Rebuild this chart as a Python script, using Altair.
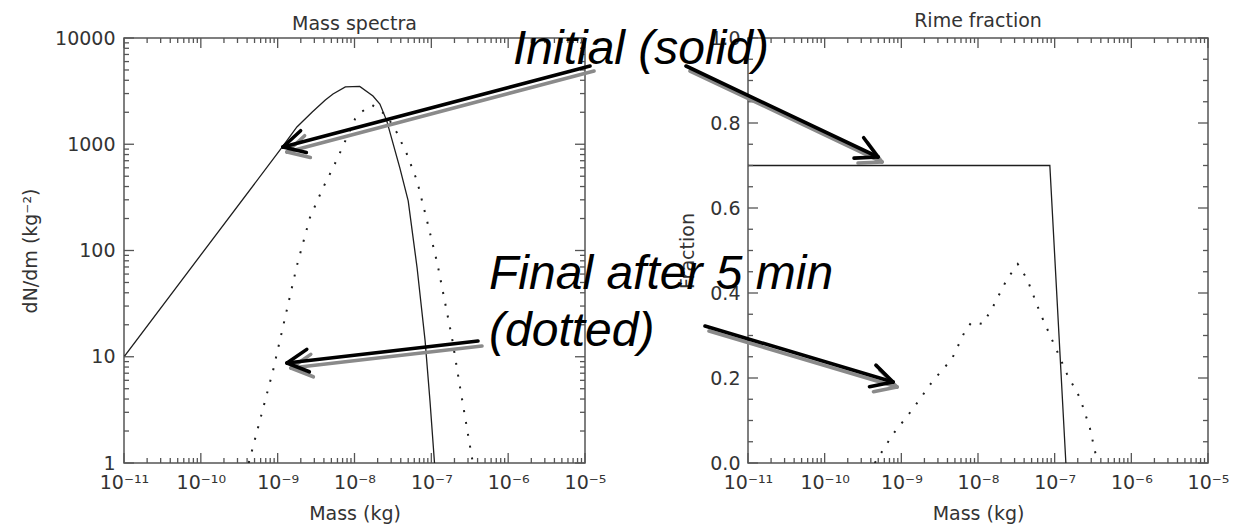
import math
import altair as alt
import pandas as pd

# ---------------- data ----------------
# Mass spectra (dN/dm, kg^-2)
init_mass = [1e-11, 1.15e-9, 1.78e-9, 2.82e-9, 4.17e-9, 5.25e-9, 7.6e-9, 1.17e-8,
             1.74e-8, 2.14e-8, 2.63e-8, 3.89e-8, 5.0e-8, 6.53e-8, 8.3e-8, 9.6e-8, 1.1e-7]
init_dndm = [10, 944, 1455, 2014, 2610, 2970, 3460, 3500,
             2840, 2390, 1660, 600, 293, 68.5, 14.1, 3.85, 1.0]

final_mass = [4.2e-10, 8.7e-10, 1.78e-9, 2.63e-9, 3.9e-9, 5.25e-9, 6.9e-9, 1.02e-8, 1.26e-8,
              1.7e-8, 2.63e-8, 3.55e-8, 4.8e-8, 6.53e-8, 8.8e-8, 1.2e-7, 1.86e-7, 2.37e-7, 3.47e-7]
final_dndm = [1.0, 7.4, 72, 204, 390, 600, 920, 1740, 2040,
              2340, 1860, 1290, 810, 450, 190, 75, 15, 5.1, 1.0]

# Rime fraction
rime_init_mass = [1e-11, 8.65e-8, 1.4e-7]
rime_init_frac = [0.70, 0.70, 0.0]

rime_final_mass = [4.5e-10, 7.8e-10, 1.41e-9, 2.57e-9, 4.57e-9, 6.76e-9, 8.3e-9, 1.15e-8, 1.51e-8,
                   2.4e-8, 3.3e-8, 4.37e-8, 6.46e-8, 1.07e-7, 1.45e-7, 2.14e-7, 2.88e-7, 3.63e-7]
rime_final_frac = [0.0, 0.068, 0.127, 0.193, 0.245, 0.31, 0.332, 0.327, 0.362,
                   0.433, 0.468, 0.433, 0.353, 0.264, 0.209, 0.153, 0.082, 0.0]

# ---------------- ticks / labels ----------------
x_major = [1e-11, 1e-10, 1e-9, 1e-8, 1e-7, 1e-6, 1e-5]
x_labels = ["10⁻¹¹", "10⁻¹⁰", "10⁻⁹", "10⁻⁸", "10⁻⁷", "10⁻⁶", "10⁻⁵"]
x_minor = [k * 10.0 ** e for e in range(-11, -5) for k in range(2, 10)]

ly_major = [1, 10, 100, 1000, 10000]
ly_labels = ["1", "10", "100", "1000", "10000"]
ly_minor = [k * 10.0 ** e for e in range(0, 4) for k in range(2, 10)]

ry_major = [0.0, 0.2, 0.4, 0.6, 0.8, 1.0]
ry_labels = ["0.0", "0.2", "0.4", "0.6", "0.8", "1.0"]
ry_minor = [0.05, 0.1, 0.15, 0.25, 0.3, 0.35, 0.45, 0.5, 0.55, 0.65, 0.7, 0.75, 0.85, 0.9, 0.95]

# ---------------- style ----------------
W1, W2, H = 461, 460, 425
FONT = "DejaVu Sans"
TXT = "#333333"
AXC = "#555555"
INK = "#1e1e1e"
FS = 19
MAJ, MIN = 10, 5


def arr_expr(labels, offset):
    return "[" + ",".join("'" + s + "'" for s in labels) + "][round(log(datum.value)/LN10)+" + str(offset) + "]"


x_label_expr = arr_expr(x_labels, 11)
ly_label_expr = arr_expr(ly_labels, 0)
ry_label_expr = "[" + ",".join("'" + s + "'" for s in ry_labels) + "][round(datum.value*5)]"

xscale = alt.Scale(type="log", domain=[1e-11, 1e-5], nice=False)
xaxis = alt.Axis(values=x_major, labelExpr=x_label_expr, ticks=False, domain=False, grid=False,
                 labelPadding=10, title="Mass (kg)", titlePadding=12, labelFlush=False)


def panel(ydf_name, yscale, yaxis, ymaj, ymin, W, lines):
    X = alt.X("mass:Q", scale=xscale, axis=xaxis)
    Y = alt.Y(ydf_name + ":Q", scale=yscale, axis=yaxis)
    layers = []
    for df, dotted in lines:
        props = dict(color=INK, strokeWidth=1.3, clip=True)
        if dotted:
            props = dict(color=INK, strokeWidth=2, strokeDash=[2, 10], clip=True)
        layers.append(alt.Chart(df).mark_line(**props).encode(x=X, y=Y))
    tick = dict(color=AXC, strokeWidth=1.3)
    for vals, L in ((x_major, MAJ), (x_minor, MIN)):
        d = pd.DataFrame({"mass": vals})
        layers.append(alt.Chart(d).mark_rule(**tick).encode(x=X, y=alt.value(H), y2=alt.value(H - L)))
        layers.append(alt.Chart(d).mark_rule(**tick).encode(x=X, y=alt.value(0), y2=alt.value(L)))
    for vals, L in ((ymaj, MAJ), (ymin, MIN)):
        d = pd.DataFrame({ydf_name: vals})
        layers.append(alt.Chart(d).mark_rule(**tick).encode(y=Y, x=alt.value(0), x2=alt.value(L)))
        layers.append(alt.Chart(d).mark_rule(**tick).encode(y=Y, x=alt.value(W), x2=alt.value(W - L)))
    return layers


def ptitle(text):
    return alt.TitleParams(text, font=FONT, fontSize=FS, fontWeight="normal", color=TXT,
                           offset=-5, frame="group")


# ---- left panel
ly_scale = alt.Scale(type="log", domain=[1, 10000], nice=False)
ly_axis = alt.Axis(values=ly_major, labelExpr=ly_label_expr, ticks=False, domain=False, grid=False,
                   labelPadding=9, title="dN/dm (kg⁻²)", titlePadding=14)
left_layers = panel("dndm", ly_scale, ly_axis, ly_major, ly_minor, W1,
                    [(pd.DataFrame({"mass": init_mass, "dndm": init_dndm}), False),
                     (pd.DataFrame({"mass": final_mass, "dndm": final_dndm}), True)])
left = alt.layer(*left_layers).properties(width=W1, height=H, title=ptitle("Mass spectra"))

# ---- right panel
ry_scale = alt.Scale(domain=[0, 1], nice=False)
ry_axis = alt.Axis(values=ry_major, labelExpr=ry_label_expr, ticks=False, domain=False, grid=False,
                   labelPadding=8, title="Fraction", titlePadding=12)
right_layers = panel("frac", ry_scale, ry_axis, ry_major, ry_minor, W2,
                     [(pd.DataFrame({"mass": rime_init_mass, "frac": rime_init_frac}), False),
                      (pd.DataFrame({"mass": rime_final_mass, "frac": rime_final_frac}), True)])

# ---- annotation overlay (page pixels, converted to the right panel's frame)
OX, OY = 748, 37
arrows = [((590, 65), (283, 146)), ((686, 65), (878, 156)),
          ((478, 340), (287, 362)), ((705, 325), (893, 381))]
BARB, HALF = 24, math.radians(28)
SHADOW = (4, 5)


def segs(dx, dy):
    rows = []
    for (tx, ty), (hx, hy) in arrows:
        ang = math.atan2(ty - hy, tx - hx)
        rows.append((tx, ty, hx, hy))
        for s in (-1, 1):
            a = ang + s * HALF
            rows.append((hx, hy, hx + BARB * math.cos(a), hy + BARB * math.sin(a)))
    return pd.DataFrame([{"ax": a - OX + dx, "ay": b - OY + dy, "ax2": c - OX + dx, "ay2": d - OY + dy}
                         for a, b, c, d in rows])


def arrow_layer(df, color):
    return alt.Chart(df).mark_rule(color=color, strokeWidth=3.6, strokeCap="round").encode(
        x=alt.X("ax:Q", scale=None, axis=None), y=alt.Y("ay:Q", scale=None, axis=None),
        x2="ax2:Q", y2="ay2:Q")


note = dict(font="Liberation Sans", fontStyle="italic", fontSize=48, color="#000000", baseline="alphabetic")
texts = [
    alt.Chart(pd.DataFrame({"t": [0]})).mark_text(text="Initial (solid)", align="center", **note).encode(
        x=alt.value(641 - OX), y=alt.value(63 - OY)),
    alt.Chart(pd.DataFrame({"t": [0]})).mark_text(text="Final after 5 min", align="left", **note).encode(
        x=alt.value(489 - OX), y=alt.value(288 - OY)),
    alt.Chart(pd.DataFrame({"t": [0]})).mark_text(text="(dotted)", align="left", **note).encode(
        x=alt.value(489 - OX), y=alt.value(345 - OY)),
]

right = alt.layer(*right_layers, arrow_layer(segs(*SHADOW), "#8a8a8a"), arrow_layer(segs(0, 0), "#000000"),
                  *texts).properties(width=W2, height=H, title=ptitle("Rime fraction"))

chart = alt.hconcat(left, right, spacing=163, bounds="flush").configure_view(
    stroke=AXC, strokeWidth=1.5
).configure_axis(
    labelFont=FONT, labelFontSize=FS, labelColor=TXT, titleFont=FONT, titleFontSize=FS,
    titleFontWeight="normal", titleColor=TXT
).properties(padding={"left": 20, "top": 11, "right": 0, "bottom": 0}, background="white")

chart.save("out.html", embed_options={"renderer": "svg", "actions": False})
